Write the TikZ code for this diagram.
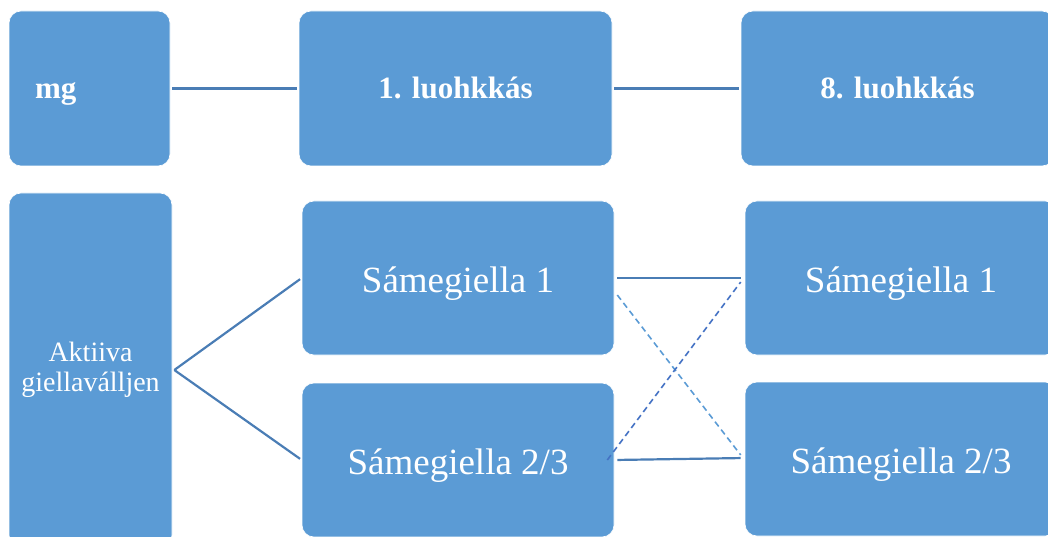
\documentclass[tikz,border=0pt]{standalone}
\usepackage{fontspec}
\setmainfont{Liberation Serif}
\definecolor{boxblue}{HTML}{5B9BD5}
\definecolor{tieblue}{HTML}{4A7DB5}
\definecolor{darkdash}{HTML}{4472C4}
\begin{document}
\begin{tikzpicture}[x=1pt,y=-1pt,
	box/.style={rectangle,rounded corners=12pt,fill=boxblue,draw=white,line width=.6pt,text=white,inner sep=0pt},
	head/.style={box,font=\fontsize{31}{36}\selectfont\bfseries,text height=25pt,text depth=5pt},
	lang/.style={box,font=\fontsize{37}{42}\selectfont,text height=36pt,text depth=8pt},
	tie/.style={draw=tieblue,line width=2.2pt},
	cross/.style={line width=1.6pt,dash pattern=on 6pt off 4pt}]
	\useasboundingbox (0,0) rectangle (1048,537);
	\begin{scope}
	\clip (0,0) rectangle (1048,537);
	\node[head,minimum width=161pt,minimum height=155pt,text width=109pt,align=left] (mg) at (89.5,88.5) {mg};
	\node[head,minimum width=313pt,minimum height=155pt] (luokka1) at (455.5,88.5) {1. luohkkás};
	\node[head,minimum width=313pt,minimum height=155pt] (luokka8) at (897.5,88.5) {8. luohkkás};
	\node[box,minimum width=163pt,minimum height=354pt,align=center,font=\fontsize{28}{30}\selectfont] (aktiiva) at (90.5,370) {Aktiiva\\giellaválljen};
	\node[lang,minimum width=312pt,minimum height=154pt] (sg1) at (458,278) {Sámegiella 1};
	\node[lang,minimum width=312pt,minimum height=154pt] (sg23) at (458,460) {Sámegiella 2/3};
	\node[lang,minimum width=312pt,minimum height=154pt] (sgr1) at (901,278) {Sámegiella 1};
	\node[lang,minimum width=312pt,minimum height=154pt] (sgr23) at (901,459) {Sámegiella 2/3};
	\end{scope}
	\draw[tie,shorten <=2pt,shorten >=2pt] (mg.east) -- (luokka1.west);
	\draw[tie,shorten <=2pt,shorten >=2pt] (luokka1.east) -- (luokka8.west);
	\draw[tie,shorten >=2pt] ([xshift=2pt]aktiiva.east) -- (sg1.west);
	\draw[tie,shorten >=2pt] ([xshift=2pt]aktiiva.east) -- (sg23.west);
	\draw[tie,shorten <=3pt,shorten >=4pt] (sg1.east) -- (sgr1.west);
	\draw[tie,shorten <=3pt,shorten >=4pt] (sg23.east) -- ([yshift=1pt]sgr23.west);
	\draw[cross,draw=boxblue] ([xshift=3pt,yshift=-17pt]sg1.east) -- ([xshift=-4pt,yshift=4pt]sgr23.west);
	\draw[cross,draw=darkdash] ([xshift=-7pt]sg23.east) -- ([xshift=-4pt,yshift=-4pt]sgr1.west);
\end{tikzpicture}
\end{document}
